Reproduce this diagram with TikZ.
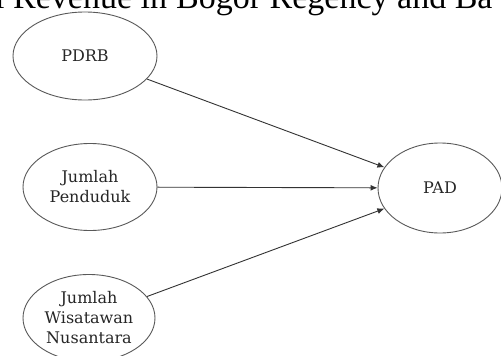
\documentclass[tikz,border=0pt]{standalone}
\usepackage{fontspec}
\setmainfont{DejaVu Serif}
\newfontfamily\titlefont{Liberation Serif}
\usetikzlibrary{shapes.geometric,arrows.meta}
\tikzset{
  var/.style={ellipse, draw=black!65, line width=0.9pt, fill=white, inner sep=0pt,
    align=center, font=\fontsize{16}{20}\selectfont, text=black!85},
  link/.style={draw=black!80, line width=0.9pt, -{Latex[length=7pt,width=6pt]}},
  titlepart/.style={anchor=base west, inner sep=0pt, font=\titlefont\fontsize{34}{40}\selectfont}
}
\begin{document}
\begin{tikzpicture}[x=1pt,y=-1pt]
\useasboundingbox (0,0) rectangle (501,356);
\clip (0,0) rectangle (501,356);
\fill[white] (0,0) rectangle (501,356);
\node[titlepart] (titleA) at (-5,9) {l Revenue in};
\node[titlepart] (titleB) at (176,9) {Bogor Regency and Ba};
\node[var, minimum width=144pt, minimum height=88pt] (pdrb) at (85,56) {PDRB};
\node[var, minimum width=134pt, minimum height=87pt] (pend) at (90,187) {Jumlah\\Penduduk};
\node[var, minimum width=132pt, minimum height=87pt] (wis) at (89,318) {Jumlah\\Wisatawan\\Nusantara};
\node[var, minimum width=124pt, minimum height=90pt] (pad) at (440,188) {PAD};
\draw[link] (pdrb) -- (pad);
\draw[link] (pend) -- (pad);
\draw[link] (wis) -- (pad);
\end{tikzpicture}
\end{document}
